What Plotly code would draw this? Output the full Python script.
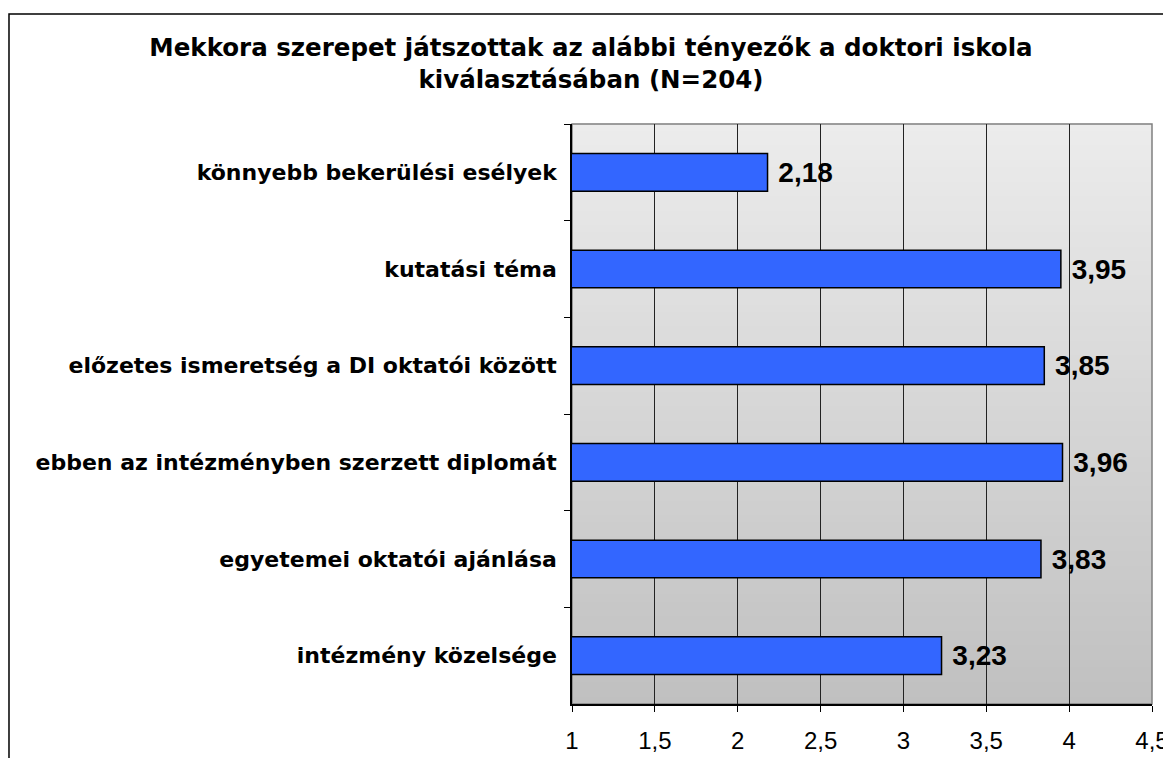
import plotly.graph_objects as go

categories = [
    "könnyebb bekerülési esélyek",
    "kutatási téma",
    "előzetes ismeretség a DI oktatói között",
    "ebben az intézményben szerzett diplomát",
    "egyetemei oktatói ajánlása",
    "intézmény közelsége",
]
values = [2.18, 3.95, 3.85, 3.96, 3.83, 3.23]
x_ticks = [1, 1.5, 2, 2.5, 3, 3.5, 4, 4.5]
x_tick_labels = ["1", "1,5", "2", "2,5", "3", "3,5", "4", "4,5"]
title_text = ("Mekkora szerepet játszottak az alábbi tényezők a doktori iskola<br>"
              "kiválasztásában (N=204)")

ARIAL = "Liberation Sans, Arial, sans-serif"
WIDE = "DejaVu Sans, Verdana, sans-serif"

fig = go.Figure()
fig.add_trace(go.Bar(
    y=categories, x=values, orientation="h",
    marker=dict(color="#3366FF", line=dict(color="#000000", width=1.5)),
    texttemplate=" %{x:.2f}", textposition="outside",
    textfont=dict(family=ARIAL, size=28, color="#000000", weight="bold"),
    cliponaxis=False, width=0.39,
))

shapes = []
# gradient background of plot area
n = 80
top_rgb = (0xEC, 0xEC, 0xEC)
bot_rgb = (0xC0, 0xC0, 0xC0)
for i in range(n):
    f = (i + 0.5) / n
    c = tuple(round(top_rgb[k] + (bot_rgb[k] - top_rgb[k]) * f) for k in range(3))
    y1 = 1 - i / n
    y0 = 1 - (i + 1) / n
    shapes.append(dict(type="rect", xref="x domain", yref="y domain",
                       x0=0, x1=1, y0=y0 - 0.001, y1=y1 + 0.001,
                       fillcolor="rgb(%d,%d,%d)" % c, line=dict(width=0),
                       layer="below"))
# plot-area border (gray top/right)
shapes.append(dict(type="rect", xref="x domain", yref="y domain",
                   x0=0, x1=1, y0=0, y1=1, line=dict(color="#808080", width=1.5),
                   fillcolor="rgba(0,0,0,0)", layer="below"))
# outer chart border
shapes.append(dict(type="rect", xref="paper", yref="paper",
                   x0=-0.9707, x1=1.2, y0=-0.3, y1=1.1897,
                   line=dict(color="#000000", width=1.5),
                   fillcolor="rgba(0,0,0,0)", layer="above"))

fig.update_layout(
    width=1163, height=750,
    margin=dict(l=564, r=19, t=116, b=54),
    paper_bgcolor="white", plot_bgcolor="rgba(0,0,0,0)",
    separators=", ",
    showlegend=False,
    shapes=shapes,
    title=dict(text=title_text, x=0.5013, xref="container", xanchor="center",
               y=1 - 48 / 750, yref="container", yanchor="top",
               font=dict(family=WIDE, size=24.5, color="#000000", weight="bold")),
    font=dict(family=ARIAL, color="#000000"),
)
fig.update_xaxes(
    range=[1, 4.5], tickvals=x_ticks, ticktext=x_tick_labels,
    showgrid=True, gridcolor="#222222", gridwidth=1,
    showline=True, linecolor="#000000", linewidth=1.5,
    ticks="outside", ticklen=6, tickcolor="#000000",
    tickfont=dict(family=ARIAL, size=24, color="#000000"),
    ticklabelstandoff=8, automargin=False,
    zeroline=False, fixedrange=True,
)
fig.update_yaxes(
    autorange="reversed", showgrid=False,
    showline=True, linecolor="#000000", linewidth=1.5,
    ticks="outside", ticklen=6, tickcolor="#000000", tickson="boundaries",
    tickfont=dict(family=WIDE, size=22, color="#000000", weight="bold"),
    ticklabelstandoff=9, automargin=False,
)

fig.write_html("out.html")
